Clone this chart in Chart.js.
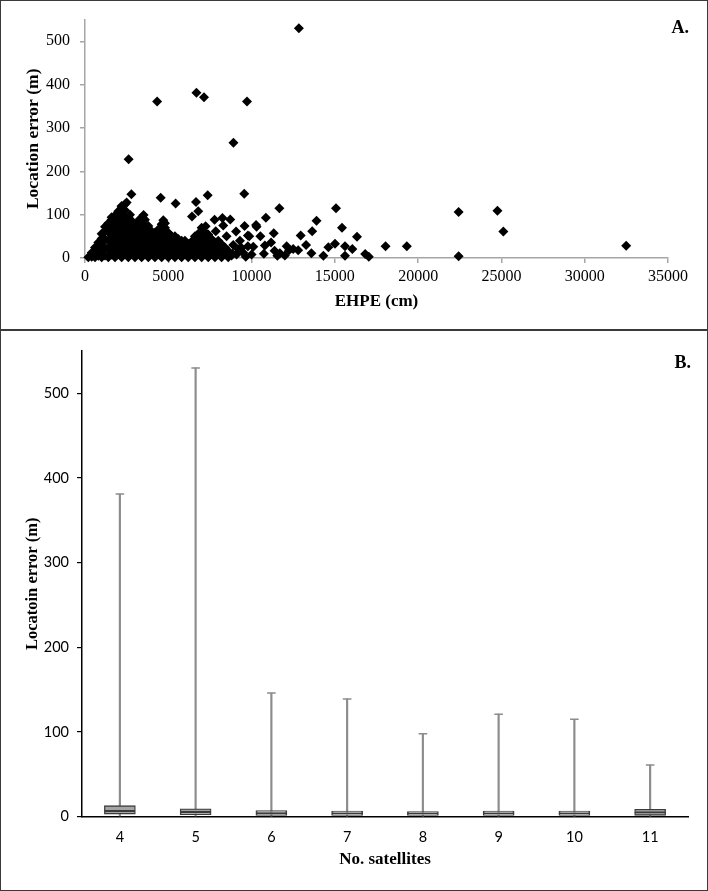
<!DOCTYPE html>
<html>
<head>
<meta charset="utf-8">
<title>Location error vs EHPE and satellites</title>
<script src="https://cdn.jsdelivr.net/npm/chart.js@4.4.0/dist/chart.umd.min.js"></script>
<style>
  html, body { margin: 0; padding: 0; background: #fff; }
  #page { position: relative; width: 708px; height: 891px; overflow: hidden; }
  #chartA { position: absolute; left: 0; top: 0; }
  #chartB { position: absolute; left: 0; top: 331px; }
  .frame { position: absolute; left: 0; top: 0; width: 708px; height: 891px; box-sizing: border-box;
           border: 1.5px solid #3a3a3a; pointer-events: none; }
  .divider { position: absolute; left: 0; top: 329px; width: 708px; height: 0; border-top: 2px solid #3a3a3a; }
  .tag { position: absolute; font: bold 18px "Liberation Serif", serif; line-height: 20px; color: #000; }
</style>
</head>
<body>
<div id="page">
  <canvas id="chartA" width="708" height="330"></canvas>
  <canvas id="chartB" width="708" height="558"></canvas>
  <div class="divider"></div>
  <div class="frame"></div>
  <div class="tag" style="right:19px; top:17px;">A.</div>
  <div class="tag" style="right:17px; top:352px;">B.</div>
</div>
<script>
// Panel A: EHPE (cm) vs location error (m)
// dense cluster near the origin, given column by column: [EHPE, error]
const denseCluster = [
  [200, 2],
  [400, 3], [400, 12],
  [600, 2], [600, 14], [600, 24],
  [800, 5], [800, 20], [800, 36],
  [1000, 2], [1000, 15], [1000, 30], [1000, 45], [1000, 56],
  [1200, 6], [1200, 24], [1200, 44], [1200, 62], [1200, 72],
  [1400, 2], [1400, 20], [1400, 40], [1400, 60], [1400, 80],
  [1600, 8], [1600, 28], [1600, 48], [1600, 68], [1600, 88], [1600, 94],
  [1800, 2], [1800, 20], [1800, 40], [1800, 60], [1800, 80], [1800, 98],
  [2000, 10], [2000, 30], [2000, 50], [2000, 70], [2000, 90], [2000, 108],
  [2200, 2], [2200, 20], [2200, 40], [2200, 60], [2200, 80], [2200, 100], [2200, 118],
  [2400, 10], [2400, 30], [2400, 50], [2400, 70], [2400, 90], [2400, 110], [2400, 124],
  [2600, 2], [2600, 20], [2600, 40], [2600, 60], [2600, 80], [2600, 94],
  [2800, 10], [2800, 30], [2800, 50], [2800, 70], [2800, 86],
  [3000, 2], [3000, 20], [3000, 40], [3000, 60], [3000, 74],
  [3200, 10], [3200, 30], [3200, 50], [3200, 70], [3200, 84],
  [3400, 2], [3400, 20], [3400, 40], [3400, 60], [3400, 80], [3400, 92],
  [3600, 10], [3600, 30], [3600, 50], [3600, 70], [3600, 88],
  [3800, 2], [3800, 20], [3800, 40], [3800, 60], [3800, 74],
  [4000, 10], [4000, 30], [4000, 50], [4000, 62],
  [4200, 2], [4200, 20], [4200, 40], [4200, 58],
  [4400, 10], [4400, 30], [4400, 50], [4400, 66],
  [4600, 2], [4600, 20], [4600, 40], [4600, 60], [4600, 78],
  [4800, 10], [4800, 30], [4800, 50], [4800, 70], [4800, 80],
  [5000, 2], [5000, 20], [5000, 40], [5000, 58],
  [5200, 10], [5200, 30], [5200, 50],
  [5400, 2], [5400, 20], [5400, 40], [5400, 50],
  [5600, 10], [5600, 30], [5600, 44],
  [5800, 2], [5800, 20], [5800, 40],
  [6000, 10], [6000, 30], [6000, 40],
  [6200, 2], [6200, 20], [6200, 32],
  [6400, 10], [6400, 30], [6400, 38],
  [6600, 2], [6600, 20], [6600, 40], [6600, 50],
  [6800, 10], [6800, 30], [6800, 44], [6800, 56],
  [7000, 2], [7000, 20], [7000, 40], [7000, 54],
  [7200, 10], [7200, 30], [7200, 48], [7200, 60],
  [7400, 2], [7400, 20], [7400, 40], [7400, 54],
  [7600, 10], [7600, 30], [7600, 44],
  [7800, 2], [7800, 20], [7800, 36],
  [8000, 10], [8000, 28], [8000, 40],
  [8200, 2], [8200, 20], [8200, 32],
  [8400, 10], [8400, 24],
  [8600, 2], [8600, 16],
  [8800, 6]
];

// scattered points and outliers
const sparsePoints = [
  [12840, 530], [6690, 381], [7145, 371], [4330, 361], [9725, 361], [8910, 266], [2620, 228],
  [2785, 147], [2500, 128], [2200, 120], [4545, 139], [5440, 126], [6665, 129], [6800, 108],
  [6425, 96], [7365, 145], [9560, 148], [11670, 115], [15070, 115], [22430, 106], [24760, 109],
  [25115, 61], [32490, 28], [22430, 4], [18045, 27], [19320, 27], [16330, 49], [15430, 70],
  [15010, 33], [15610, 27], [15610, 5], [16050, 21], [16820, 9], [17040, 3], [13900, 86],
  [13640, 62], [12950, 52], [13270, 30], [13590, 11], [14310, 5], [14610, 25], [12500, 21],
  [12110, 27], [12000, 6], [11330, 57], [10860, 93], [10270, 76], [10530, 50], [10740, 10],
  [11380, 17], [11550, 5], [11170, 36], [9780, 52], [9580, 74], [9070, 61], [8720, 89],
  [8250, 92], [7780, 88], [7240, 73], [6780, 52], [8500, 50], [7850, 62], [9400, 23],
  [9780, 27], [9860, 50], [10300, 72], [10100, 26], [10800, 29], [11700, 11], [9500, 12],
  [9100, 8], [9300, 40], [8900, 30], [9650, 3], [10000, 8], [3515, 99], [3300, 90],
  [2700, 100], [4700, 87], [7000, 70], [8300, 75], [8850, 10], [9200, 20], [12800, 18],
  [12250, 18]
];

// Panel B: box plot by number of satellites
const satellites = ['4', '5', '6', '7', '8', '9', '10', '11'];
const whiskerMin = [0.5, 0.5, 0.3, 0.3, 0.3, 0.3, 0.3, 0.3];
const whiskerMax = [381, 530, 146, 139, 98, 121, 115, 61];
const quartile1 = [3, 2.2, 1.5, 1.5, 1.3, 1.5, 1.5, 1.5];
const medians = [6.6, 5.4, 4, 3.8, 3.2, 3.8, 3.8, 5];
const quartile3 = [12.9, 9.3, 7, 6.6, 5.8, 6.6, 6.6, 8.6];

const serif = '"Liberation Serif", "Times New Roman", serif';
const sans = 'Lato, "Liberation Sans", sans-serif';
const plainNumber = v => String(v);

// panel A
new Chart(document.getElementById('chartA'), {
  type: 'scatter',
  data: {
    datasets: [{
      data: denseCluster.concat(sparsePoints).map(p => ({ x: p[0], y: p[1] })),
      backgroundColor: '#000',
      borderWidth: 0,
      pointStyle: 'rectRot',
      pointRadius: 5,
      pointHoverRadius: 5,
      clip: false
    }]
  },
  options: {
    responsive: false,
    animation: false,
    layout: { padding: { top: 18, right: 40, bottom: 0, left: 0 } },
    plugins: { legend: { display: false }, tooltip: { enabled: false } },
    scales: {
      x: {
        type: 'linear',
        min: 0,
        max: 35000,
        ticks: { stepSize: 5000, callback: plainNumber, color: '#000', padding: 4, maxRotation: 0,
                 font: { family: serif, size: 16 } },
        grid: { drawOnChartArea: false, tickLength: 5, color: '#a6a6a6', lineWidth: 1.5 },
        border: { color: '#a6a6a6', width: 1.5 },
        title: { display: true, text: 'EHPE (cm)', color: '#000',
                 font: { family: serif, size: 17, weight: 'bold' }, padding: { top: 0, bottom: 18 } },
        afterFit(scale) { scale.height = 72; }
      },
      y: {
        min: 0,
        max: 550,
        ticks: { stepSize: 100, includeBounds: false, callback: plainNumber, color: '#000', padding: 10,
                 font: { family: serif, size: 16 } },
        grid: { drawOnChartArea: false, tickLength: 5, color: '#a6a6a6', lineWidth: 1.5 },
        border: { color: '#a6a6a6', width: 1.5 },
        title: { display: true, text: 'Location error (m)', color: '#000',
                 font: { family: serif, size: 17.5, weight: 'bold' }, padding: { top: 23, bottom: 0 } },
        afterFit(scale) { scale.width = 85; }
      }
    }
  }
});

// panel B
const boxStyle = {
  backgroundColor: '#a5a5a5',
  borderColor: '#3c3c3c',
  borderWidth: 1.3,
  borderSkipped: false,
  barThickness: 31,
  grouped: false,
  order: 1
};

new Chart(document.getElementById('chartB'), {
  type: 'bar',
  data: {
    labels: satellites,
    datasets: [
      Object.assign({ label: 'Q1-median', data: satellites.map((s, i) => [quartile1[i], medians[i]]) }, boxStyle),
      Object.assign({ label: 'median-Q3', data: satellites.map((s, i) => [medians[i], quartile3[i]]) }, boxStyle),
      {
        type: 'line',
        label: 'max',
        data: whiskerMax,
        showLine: false,
        pointStyle: 'line',
        pointRadius: 4.3,
        pointHoverRadius: 4.3,
        pointBorderColor: '#8c8c8c',
        pointBorderWidth: 1.5,
        order: 2
      },
      {
        label: 'whisker',
        data: satellites.map((s, i) => [whiskerMin[i], whiskerMax[i]]),
        backgroundColor: '#8c8c8c',
        barThickness: 1.5,
        grouped: false,
        order: 3
      }
    ]
  },
  options: {
    responsive: false,
    animation: false,
    layout: { padding: { top: 20, right: 20, bottom: 0, left: 0 } },
    plugins: { legend: { display: false }, tooltip: { enabled: false } },
    scales: {
      x: {
        ticks: { color: '#000', padding: 12, font: { family: sans, size: 14.5 } },
        grid: { drawOnChartArea: false, drawTicks: false },
        border: { color: '#000', width: 1.5 },
        title: { display: true, text: 'No. satellites', color: '#000',
                 font: { family: serif, size: 17, weight: 'bold' }, padding: { top: 0, bottom: 19 } },
        afterFit(scale) { scale.height = 72.4; }
      },
      y: {
        min: 0,
        max: 550,
        ticks: { stepSize: 100, includeBounds: false, callback: plainNumber, color: '#000', padding: 8,
                 font: { family: sans, size: 14.5 } },
        grid: { drawOnChartArea: false, tickLength: 5, color: '#000', lineWidth: 1.2 },
        border: { color: '#000', width: 1.5 },
        title: { display: true, text: 'Locatoin error (m)', color: '#000',
                 font: { family: serif, size: 16.5, weight: 'bold' }, padding: { top: 22.6, bottom: 0 } },
        afterFit(scale) { scale.width = 82; }
      }
    }
  }
});
</script>
</body>
</html>
